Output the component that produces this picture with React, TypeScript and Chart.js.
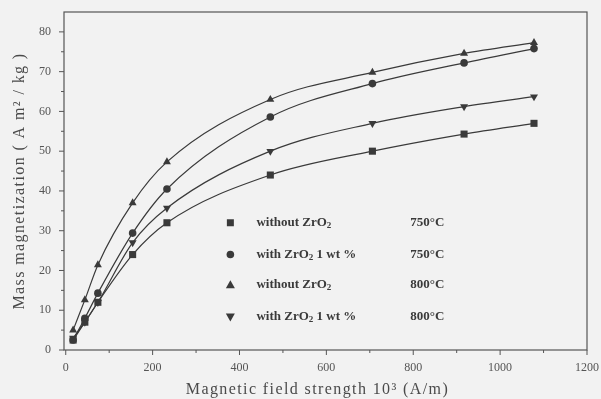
import React, { useEffect, useRef } from "react";
import { Chart, registerables } from "chart.js";
Chart.register(...registerables);

const fieldStrength = [17, 44, 74, 154, 233, 471, 706, 917, 1078];
const without750 = [2.5, 7, 12, 24, 32, 44, 50, 54.3, 57];
const with750 = [2.5, 8, 14.3, 29.4, 40.5, 58.6, 67, 72.2, 75.8];
const without800 = [5, 12.6, 21.4, 37, 47.3, 63, 69.8, 74.6, 77.3];
const with800 = [3, 7, 12, 27, 35.7, 50, 57, 61.2, 63.7];

const xTicks = [0, 200, 400, 600, 800, 1000, 1200];
const yTicks = [0, 10, 20, 30, 40, 50, 60, 70, 80];
const xMinor = [100, 300, 500, 700, 900, 1100];
const yMinor = [5, 15, 25, 35, 45, 55, 65, 75];

const xTitle = "Magnetic field strength 10³ (A/m)";
const yTitle = "Mass magnetization ( A m² / kg )";
const legendPre = ["without ZrO", "with ZrO", "without ZrO", "with ZrO"];
const legendPost = ["", " 1 wt %", "", " 1 wt %"];
const legendTemp = ["750°C", "750°C", "800°C", "800°C"];
const pointStyles = ["rect", "circle", "triangle", "triangle"];
const rotations = [0, 0, 0, 180];
const radii = [5, 3.8, 4.6, 4.6];
const seriesValues = [without750, with750, without800, with800];

const INK = "#3a3a3a";
const SERIF = "'Liberation Serif', 'DejaVu Serif', serif";

export default function App() {
  const ref = useRef<HTMLCanvasElement | null>(null);
  useEffect(() => {
    if (!ref.current) return;
    const decor = {
      id: "decor",
      beforeDraw(chart: any) {
        const c = chart.ctx;
        c.save();
        c.fillStyle = "#f2f2f2";
        c.fillRect(0, 0, chart.width, chart.height);
        c.restore();
      },
      afterDraw(chart: any) {
        const c = chart.ctx;
        const a = chart.chartArea;
        const xs = chart.scales.x;
        const ys = chart.scales.y;
        c.save();
        c.strokeStyle = "#555";
        c.lineWidth = 1.2;
        c.strokeRect(a.left, a.top, a.right - a.left, a.bottom - a.top);
        c.lineWidth = 1;
        c.beginPath();
        xTicks.forEach((v) => {
          const p = xs.getPixelForValue(v);
          c.moveTo(p, a.bottom); c.lineTo(p, a.bottom + 5);
        });
        xMinor.forEach((v) => {
          const p = xs.getPixelForValue(v);
          c.moveTo(p, a.bottom); c.lineTo(p, a.bottom + 3);
        });
        yTicks.forEach((v) => {
          const p = ys.getPixelForValue(v);
          c.moveTo(a.left, p); c.lineTo(a.left - 5, p);
        });
        yMinor.forEach((v) => {
          const p = ys.getPixelForValue(v);
          c.moveTo(a.left, p); c.lineTo(a.left - 3, p);
        });
        c.stroke();
        // axis titles
        c.fillStyle = "#4a4a4a";
        c.font = `16px ${SERIF}`;
        c.textAlign = "center";
        c.textBaseline = "middle";
        (c as any).letterSpacing = "1.4px";
        c.fillText(xTitle, (a.left + a.right) / 2 - 8, 390);
        c.save();
        c.translate(20, (a.top + a.bottom) / 2);
        c.rotate(-Math.PI / 2);
        c.fillText(yTitle, 0, 0);
        c.restore();
        (c as any).letterSpacing = "0px";
        // legend
        const rowVals = [32, 24, 16.4, 8.3];
        const mx = xs.getPixelForValue(379);
        const tx = xs.getPixelForValue(439);
        const tempX = xs.getPixelForValue(793);
        c.fillStyle = INK;
        for (let i = 0; i < 4; i++) {
          const y = ys.getPixelForValue(rowVals[i]);
          c.save();
          c.translate(mx, y);
          c.fillStyle = INK;
          c.beginPath();
          if (i === 0) c.rect(-3.5, -3.5, 7, 7);
          else if (i === 1) c.arc(0, 0, 3.8, 0, Math.PI * 2);
          else if (i === 2) { c.moveTo(0, -4.5); c.lineTo(4.5, 3.5); c.lineTo(-4.5, 3.5); c.closePath(); }
          else { c.moveTo(0, 4.5); c.lineTo(4.5, -3.5); c.lineTo(-4.5, -3.5); c.closePath(); }
          c.fill();
          c.restore();
          c.textBaseline = "middle";
          c.textAlign = "left";
          c.font = `bold 13px ${SERIF}`;
          c.fillText(legendPre[i], tx, y);
          let w = c.measureText(legendPre[i]).width;
          c.font = `bold 9px ${SERIF}`;
          c.fillText("2", tx + w, y + 3);
          w += c.measureText("2").width;
          c.font = `bold 13px ${SERIF}`;
          c.fillText(legendPost[i], tx + w, y);
          c.fillText(legendTemp[i], tempX, y);
        }
        c.restore();
      },
    };
    const fixPad = (s: any) => {
      s.paddingTop = 0; s.paddingBottom = 0; s.paddingLeft = 0; s.paddingRight = 0;
    };
    const chart = new Chart(ref.current, {
      type: "scatter",
      data: {
        datasets: seriesValues.map((vals, i) => ({
          data: vals.map((v, j) => ({ x: fieldStrength[j], y: v })),
          showLine: true,
          borderColor: INK,
          backgroundColor: INK,
          borderWidth: 1.2,
          pointStyle: pointStyles[i] as any,
          pointRotation: rotations[i],
          pointRadius: radii[i],
          pointBorderWidth: 0,
          cubicInterpolationMode: "monotone" as const,
        })),
      },
      plugins: [decor],
      options: {
        animation: false,
        responsive: false,
        layout: { padding: { top: 12, right: 14, left: 0, bottom: 0 } },
        plugins: { legend: { display: false }, tooltip: { enabled: false } },
        scales: {
          x: {
            type: "linear",
            min: -4,
            max: 1200,
            afterBuildTicks: (s: any) => { s.ticks = xTicks.map((v) => ({ value: v })); },
            afterFit: (s: any) => { s.height = 49; fixPad(s); },
            grid: { display: false, drawTicks: false },
            border: { display: false },
            ticks: {
              color: "#555",
              font: { family: SERIF, size: 12 },
              padding: 11,
              maxRotation: 0,
              callback: (v: any) => String(v),
            },
          },
          y: {
            type: "linear",
            min: 0,
            max: 85,
            afterBuildTicks: (s: any) => { s.ticks = yTicks.map((v) => ({ value: v })); },
            afterFit: (s: any) => { s.width = 64; fixPad(s); },
            grid: { display: false, drawTicks: false },
            border: { display: false },
            ticks: {
              color: "#555",
              font: { family: SERIF, size: 12 },
              padding: 13,
              callback: (v: any) => String(v),
            },
          },
        },
      },
    });
    return () => chart.destroy();
  }, []);
  return (
    <div style={{ position: "fixed", left: 0, top: 0, width: 601, height: 399 }}>
      <canvas ref={ref} width={601} height={399} />
    </div>
  );
}
